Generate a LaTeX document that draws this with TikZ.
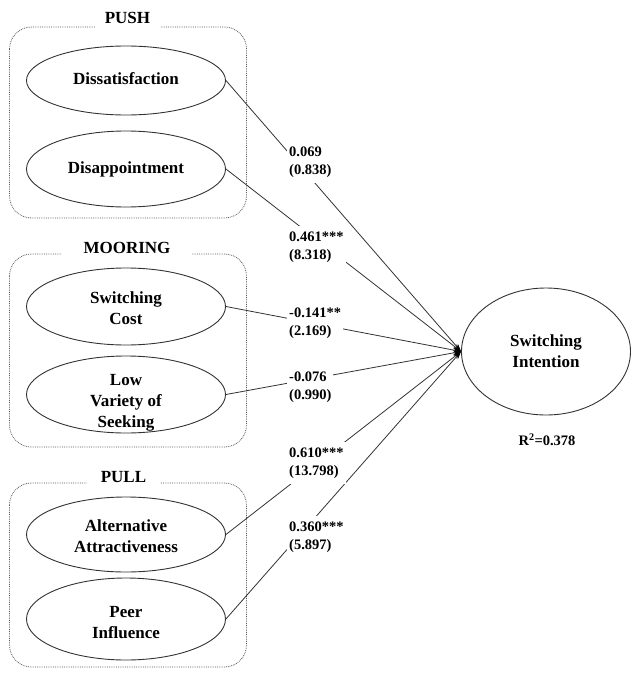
\documentclass[tikz,border=0pt]{standalone}
\usepackage{fontspec}
\setmainfont{Liberation Serif}
\usetikzlibrary{shapes.geometric,arrows.meta}
\begin{document}
\begin{tikzpicture}[x=1pt,y=-1pt,
  construct/.style={ellipse, draw=black!80, line width=0.9pt, inner sep=0pt, minimum width=199pt},
  ctext/.style={font=\fontsize{17}{21}\selectfont\bfseries, align=center, inner sep=0pt},
  grp/.style={draw=black!65, densely dotted, line width=0.8pt, rounded corners=22pt},
  gtitle/.style={fill=white, font=\fontsize{17}{21}\selectfont\bfseries, text height=12pt, text depth=0pt, inner ysep=6pt, inner xsep=0pt},
  coef/.style={fill=white, anchor=west, align=left, font=\fontsize{14.5}{18.5}\selectfont\bfseries, inner xsep=2pt, inner ysep=5pt},
  conn/.style={draw=black!80, line width=0.8pt, -{Stealth[length=8pt,width=5.5pt,color=black]}}
]
\useasboundingbox (0,0) rectangle (631,677);

% group boxes
\draw[grp] (9.5,27) rectangle (246.5,218);
\draw[grp] (9.5,254) rectangle (246.5,447);
\draw[grp] (9.5,483) rectangle (246.5,667);
\node[gtitle, minimum width=65pt] (tpush) at (127.5,17.5) {PUSH};
\node[gtitle, minimum width=130pt] (tmoor) at (127,247) {MOORING};
\node[gtitle, minimum width=73pt] (tpull) at (123.5,476) {PULL};

% constructs
\node[construct, minimum height=69pt, label={[ctext, yshift=2pt]center:Dissatisfaction}] (dis) at (126,80.5) {};
\node[construct, minimum height=76pt, label={[ctext]center:Disappointment}] (dap) at (126,169) {};
\node[construct, minimum height=77pt, label={[ctext, yshift=-2pt]center:{Switching\\Cost}}] (sc) at (126,306.5) {};
\node[construct, minimum height=77pt, label={[ctext, yshift=-8pt]center:{Low\\Variety of\\Seeking}}] (lv) at (126,394.5) {};
\node[construct, minimum height=75pt, label={[ctext, yshift=-2pt]center:{Alternative\\Attractiveness}}] (aa) at (126,534.5) {};
\node[construct, minimum height=82pt, label={[ctext, yshift=-4pt]center:{Peer\\Influence}}] (pi) at (126,619) {};
\node[construct, minimum width=169pt, minimum height=127pt, label={[ctext]center:{Switching\\Intention}}] (si) at (546,351.5) {};

% connectors
\draw[conn] (dis.east) -- (si.west);
\draw[conn] (dap.east) -- (si.west);
\draw[conn] (sc.east) -- (si.west);
\draw[conn] (lv.east) -- (si.west);
\draw[conn] (aa.east) -- (si.west);
\draw[conn] (pi.east) -- (si.west);

% coefficients
\node[coef] (c1) at (287,162) {0.069\\(0.838)};
\node[coef] (c2) at (287,247) {0.461***\\(8.318)};
\node[coef] (c3) at (287,323) {-0.141**\\(2.169)};
\node[coef] (c4) at (287,387) {-0.076\\(0.990)};
\node[coef] (c5) at (287,463) {0.610***\\(13.798)};
\node[coef] (c6) at (287,537) {0.360***\\(5.897)};

\node[font=\fontsize{14.5}{18}\selectfont\bfseries] (r2) at (547,440) {R\textsuperscript{2}=0.378};
\end{tikzpicture}
\end{document}
